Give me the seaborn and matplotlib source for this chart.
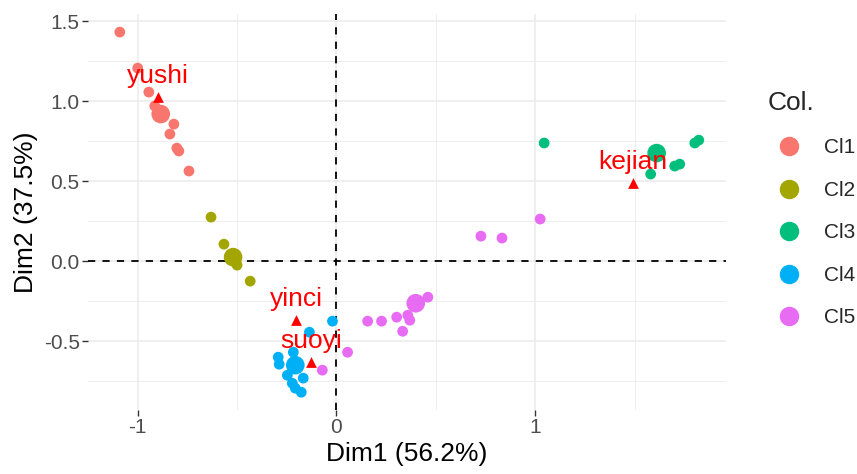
import matplotlib
matplotlib.use("Agg")
import matplotlib.pyplot as plt
from matplotlib.lines import Line2D
import seaborn as sns
import pandas as pd

# column coordinates per cluster (Dim1, Dim2)
cl1_x = [-1.09, -1.00, -0.944, -0.914, -0.818, -0.838, -0.803, -0.793, -0.742]
cl1_y = [1.431, 1.206, 1.056, 0.969, 0.856, 0.794, 0.706, 0.688, 0.563]
cl2_x = [-0.631, -0.566, -0.535, -0.50, -0.51, -0.434]
cl2_y = [0.275, 0.106, 0.015, -0.025, 0.03, -0.125]
cl3_x = [1.045, 1.581, 1.702, 1.727, 1.803, 1.823]
cl3_y = [0.738, 0.544, 0.594, 0.606, 0.738, 0.756]
cl4_x = [-0.02, -0.136, -0.217, -0.293, -0.288, -0.247, -0.167, -0.222, -0.207, -0.177]
cl4_y = [-0.375, -0.444, -0.569, -0.60, -0.644, -0.713, -0.731, -0.763, -0.794, -0.819]
cl5_x = [0.056, -0.071, 0.157, 0.227, 0.303, 0.359, 0.369, 0.333, 0.46, 0.727, 0.833, 1.025]
cl5_y = [-0.569, -0.681, -0.375, -0.375, -0.35, -0.338, -0.369, -0.438, -0.225, 0.156, 0.144, 0.263]

# cluster centres (big points)
centre_x = [-0.884, -0.52, 1.611, -0.207, 0.399]
centre_y = [0.919, 0.025, 0.675, -0.65, -0.263]
clusters = ["Cl1", "Cl2", "Cl3", "Cl4", "Cl5"]
palette = ["#F8766D", "#A3A500", "#00BF7D", "#00B0F6", "#E76BF3"]

# row points (supplementary, red triangles)
row_names = ["yushi", "yinci", "suoyi", "kejian"]
row_x = [-0.899, -0.202, -0.126, 1.49]
row_y = [1.025, -0.369, -0.631, 0.488]

pts = pd.concat([
    pd.DataFrame({"Dim1": cl1_x, "Dim2": cl1_y, "cl": "Cl1"}),
    pd.DataFrame({"Dim1": cl2_x, "Dim2": cl2_y, "cl": "Cl2"}),
    pd.DataFrame({"Dim1": cl3_x, "Dim2": cl3_y, "cl": "Cl3"}),
    pd.DataFrame({"Dim1": cl4_x, "Dim2": cl4_y, "cl": "Cl4"}),
    pd.DataFrame({"Dim1": cl5_x, "Dim2": cl5_y, "cl": "Cl5"}),
], ignore_index=True)
centres = pd.DataFrame({"Dim1": centre_x, "Dim2": centre_y, "cl": clusters})

sns.set_theme(style="whitegrid")
plt.rcParams["font.family"] = ["Liberation Sans", "DejaVu Sans"]

fig = plt.figure(figsize=(8.57, 4.74), dpi=100)
ax = fig.add_axes([88 / 857, 1 - 410 / 474, (726 - 88) / 857, (410 - 14) / 474])

sns.scatterplot(data=pts, x="Dim1", y="Dim2", hue="cl", hue_order=clusters,
                palette=palette, s=60, linewidth=0, legend=False, ax=ax, zorder=3)
sns.scatterplot(data=centres, x="Dim1", y="Dim2", hue="cl", hue_order=clusters,
                palette=palette, s=180, linewidth=0, legend=False, ax=ax, zorder=3)
ax.scatter(row_x, row_y, marker="^", color="red", s=60, linewidth=0, zorder=4)
for name, x, y in zip(row_names, row_x, row_y):
    ax.annotate(name, (x, y), xytext=(0, 10), textcoords="offset points",
                ha="center", va="baseline", color="red", fontsize=19, zorder=5)

ax.axhline(0, color="black", ls=(0, (4, 4)), lw=1.3, zorder=2)
ax.axvline(0, color="black", ls=(0, (4, 4)), lw=1.3, zorder=2)

ax.set_xlim(-1.25, 1.96)
ax.set_ylim(-0.93, 1.544)
ax.set_xticks([-1, 0, 1])
ax.set_xticklabels(["-1", "0", "1"])
ax.set_yticks([-0.5, 0.0, 0.5, 1.0, 1.5])
ax.set_yticklabels(["-0.5", "0.0", "0.5", "1.0", "1.5"])
ax.set_xticks([-0.5, 0.5, 1.5], minor=True)
ax.set_yticks([-0.75, -0.25, 0.25, 0.75, 1.25], minor=True)
ax.grid(which="major", color="#EBEBEB", lw=1.1)
ax.grid(which="minor", color="#EBEBEB", lw=0.6)
for s in ax.spines.values():
    s.set_visible(False)
ax.tick_params(which="major", length=4, width=1, color="#333333",
               labelsize=15, labelcolor="#4D4D4D", bottom=True, left=True, pad=2)
ax.tick_params(which="minor", length=0)
ax.set_xlabel("Dim1 (56.2%)", fontsize=19, color="black", labelpad=3)
ax.set_ylabel("Dim2 (37.5%)", fontsize=19, color="black", labelpad=4)

handles = [Line2D([], [], marker="o", ls="", color=c, markersize=13) for c in palette]
fig.legend(handles, clusters, title="Col.", loc="upper left",
           bbox_to_anchor=(749 / 857, 1 - 72 / 474), frameon=False,
           fontsize=15, title_fontsize=19, labelspacing=1.13, handletextpad=0.7,
           alignment="left")

fig.savefig("out.png", dpi=100)
